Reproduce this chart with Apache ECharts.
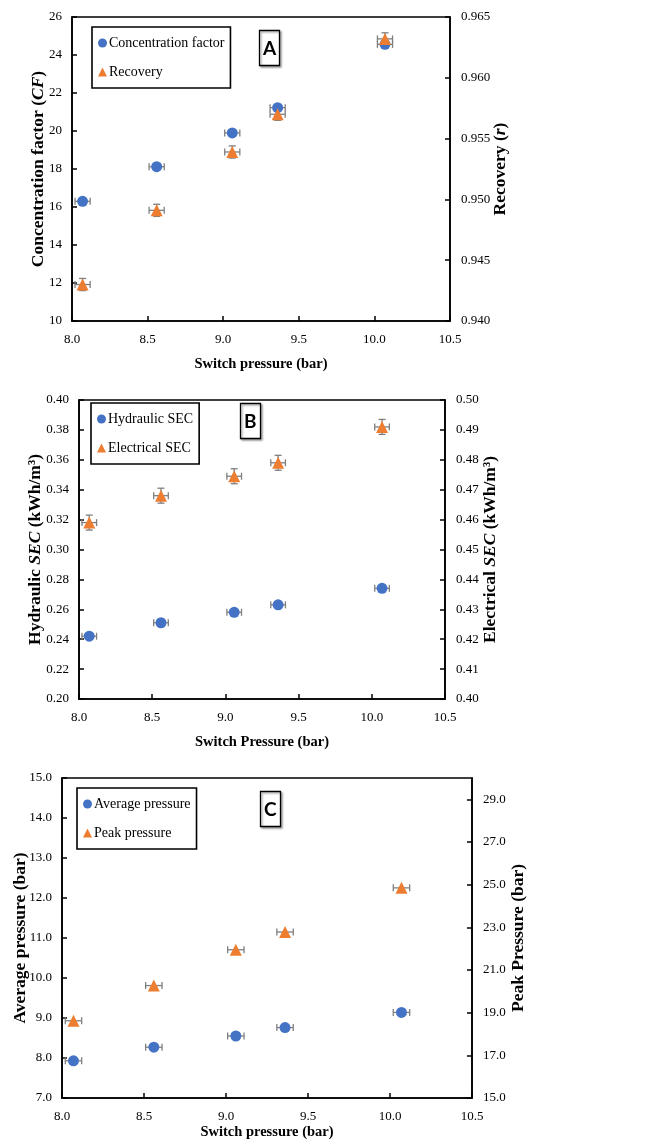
<!DOCTYPE html>
<html><head><meta charset="utf-8">
<script src="https://cdn.jsdelivr.net/npm/echarts@6/dist/echarts.min.js"></script>
<style>html,body{margin:0;padding:0;background:#fff}#c{width:672px;height:1140px}</style>
</head><body><div id="c"></div>
<script>
// ---- data ----
const switchP   = [8.07, 8.56, 9.06, 9.36, 10.07];
const switchErr = [0.05, 0.05, 0.05, 0.05, 0.05];
const cf        = [16.3, 18.12, 19.9, 21.23, 24.56];
const recovery  = [0.943, 0.9491, 0.9539, 0.957, 0.9632];
const recErr    = [0.0005, 0.0005, 0.0005, 0.0005, 0.0005];
const hydSEC    = [0.242, 0.251, 0.258, 0.263, 0.274];
const elecSEC   = [0.459, 0.468, 0.4745, 0.479, 0.491];
const elecErr   = [0.0025, 0.0025, 0.0025, 0.0025, 0.0025];
const avgP      = [7.93, 8.27, 8.55, 8.76, 9.14];
const peakP     = [18.62, 20.27, 21.95, 22.78, 24.85];

const BLUE = '#4472C4', ORANGE = '#ED7D31', ERR = '#7f7f7f';
const SERIF = 'Liberation Serif';
const VFS = 17.5;

function pts(ys){ return switchP.map((x,i)=>[x, ys[i]]); }
function errPts(ys, yerr){ return switchP.map((x,i)=>[x, ys[i], switchErr[i], yerr ? yerr[i] : 0]); }

function errRender(params, api){
  const x = api.value(0), y = api.value(1), ex = api.value(2), ey = api.value(3);
  const l = api.coord([x-ex, y]), r = api.coord([x+ex, y]);
  const st = {stroke: ERR, lineWidth: 1.3};
  const cap = 3.5;
  const ch = [
    {type:'line', shape:{x1:l[0], y1:l[1], x2:r[0], y2:r[1]}, style:st},
    {type:'line', shape:{x1:l[0], y1:l[1]-cap, x2:l[0], y2:l[1]+cap}, style:st},
    {type:'line', shape:{x1:r[0], y1:r[1]-cap, x2:r[0], y2:r[1]+cap}, style:st}
  ];
  if (ey > 0){
    const t = api.coord([x, y+ey]), b = api.coord([x, y-ey]);
    ch.push({type:'line', shape:{x1:t[0], y1:t[1], x2:b[0], y2:b[1]}, style:st});
    ch.push({type:'line', shape:{x1:t[0]-cap, y1:t[1], x2:t[0]+cap, y2:t[1]}, style:st});
    ch.push({type:'line', shape:{x1:b[0]-cap, y1:b[1], x2:b[0]+cap, y2:b[1]}, style:st});
  }
  return {type:'group', children: ch};
}

const axLine = {show:true, onZero:false, lineStyle:{color:'#000', width:1.6}};
const axTick = {show:true, inside:true, length:5, lineStyle:{color:'#000', width:1.5}};
const lblStyle = {color:'#000', fontFamily:SERIF, fontSize:13};
const nameBase = {color:'#000', fontFamily:SERIF, fontSize:VFS, fontWeight:'bold'};
const rich = {
  b:{fontFamily:SERIF, fontSize:VFS, fontWeight:'bold', color:'#000'},
  i:{fontFamily:SERIF, fontSize:VFS, fontWeight:'bold', fontStyle:'italic', color:'#000'}
};

function xAx(grid, name, gap){
  return {type:'value', gridIndex:grid, min:8, max:10.5, interval:0.5,
    axisLine:axLine, axisTick:axTick, splitLine:{show:false},
    axisLabel:Object.assign({margin:12, formatter:v=>v.toFixed(1)}, lblStyle),
    name:name, nameLocation:'middle', nameGap:gap, nameMoveOverlap:false,
    nameTextStyle:Object.assign({}, nameBase, {fontSize:14.5})};
}
function yAx(grid, pos, min, max, interval, dec, name, gap, extra){
  return Object.assign({type:'value', gridIndex:grid, position:pos, min:min, max:max, interval:interval,
    axisLine:axLine, axisTick:axTick, splitLine:{show:false},
    axisLabel:Object.assign({margin:pos==='left'?10:11, formatter:v=>v.toFixed(dec)}, lblStyle),
    name:name, nameLocation:'middle', nameGap:gap, nameRotate:90, nameMoveOverlap:false,
    nameTextStyle:Object.assign({}, nameBase, {rich:rich})}, extra||{});
}

function legendAt(left, top, names){
  return {left:left, top:top, orient:'vertical', data:names,
    borderColor:'#000', borderWidth:1.6, padding:[9,6,9,6], itemGap:15,
    itemWidth:9, itemHeight:9,
    textStyle:{fontFamily:SERIF, fontSize:14, color:'#000', padding:[0,0,0,-3]}};
}
function tag(text, left, top){
  return {text:text, left:left, top:top, padding:[9,4,8,4],
    borderColor:'#000', borderWidth:1.3,
    shadowColor:'rgba(0,0,0,0.35)', shadowBlur:2, shadowOffsetX:1.5, shadowOffsetY:1.5,
    backgroundColor:'#fff',
    textStyle:{fontFamily:'Lato', fontWeight:'bold', fontSize:19, color:'#000'}};
}

function scatter(name, xi, yi, data, shape, color, size){
  return {name:name, type:'scatter', xAxisIndex:xi, yAxisIndex:yi, data:data,
    symbol:shape, symbolSize:size, itemStyle:{color:color, opacity:1}, z:3};
}
function errs(xi, yi, data){
  return {type:'custom', xAxisIndex:xi, yAxisIndex:yi, data:data, renderItem:errRender, z:2, silent:true};
}

const gridBase = {show:true, borderColor:'#000', borderWidth:1.6, containLabel:false, outerBoundsMode:'none'};
const option = {
  animation:false,
  backgroundColor:'#fff',
  grid:[
    Object.assign({left:72, top:17, width:378, height:304}, gridBase),
    Object.assign({left:79, top:400, width:366, height:299}, gridBase),
    Object.assign({left:62, top:778, width:410, height:320}, gridBase)
  ],
  xAxis:[
    xAx(0, 'Switch pressure (bar)', 36),
    xAx(1, 'Switch Pressure (bar)', 36),
    xAx(2, 'Switch pressure (bar)', 27)
  ],
  yAxis:[
    yAx(0, 'left', 10, 26, 2, 0, '{b|Concentration factor (}{i|CF}{b|)}', 25),
    yAx(0, 'right', 0.94, 0.965, 0.005, 3, '{b|Recovery (}{i|r}{b|)}', 41),
    yAx(1, 'left', 0.2, 0.4, 0.02, 2, '{b|Hydraulic }{i|SEC}{b| (kWh/m³)}', 35),
    yAx(1, 'right', 0.4, 0.5, 0.01, 2, '{b|Electrical }{i|SEC}{b| (kWh/m³)}', 36),
    yAx(2, 'left', 7, 15, 1, 1, '{b|Average pressure (bar)}', 33),
    yAx(2, 'right', 15, 30, 2, 1, '{b|Peak Pressure (bar)}', 37,
        {axisLabel:Object.assign({margin:11, formatter:v=>v.toFixed(1), showMaxLabel:false}, lblStyle)})
  ],
  legend:[
    legendAt(92, 27, ['Concentration factor', 'Recovery']),
    legendAt(91, 403, ['Hydraulic SEC', 'Electrical SEC']),
    legendAt(77, 788, ['Average pressure', 'Peak pressure'])
  ],
  title:[ tag('A', 259, 30), tag('B', 240, 403), tag('C', 260, 791) ],
  series:[
    errs(0, 0, errPts(cf)),
    scatter('Concentration factor', 0, 0, pts(cf), 'circle', BLUE, 11),
    errs(0, 1, errPts(recovery, recErr)),
    scatter('Recovery', 0, 1, pts(recovery), 'triangle', ORANGE, 12),
    errs(1, 2, errPts(hydSEC)),
    scatter('Hydraulic SEC', 1, 2, pts(hydSEC), 'circle', BLUE, 11),
    errs(1, 3, errPts(elecSEC, elecErr)),
    scatter('Electrical SEC', 1, 3, pts(elecSEC), 'triangle', ORANGE, 12),
    errs(2, 4, errPts(avgP)),
    scatter('Average pressure', 2, 4, pts(avgP), 'circle', BLUE, 11),
    errs(2, 5, errPts(peakP)),
    scatter('Peak pressure', 2, 5, pts(peakP), 'triangle', ORANGE, 12)
  ]
};
const chart = echarts.init(document.getElementById('c'), null, {renderer:'canvas'});
chart.setOption(option);
</script></body></html>
